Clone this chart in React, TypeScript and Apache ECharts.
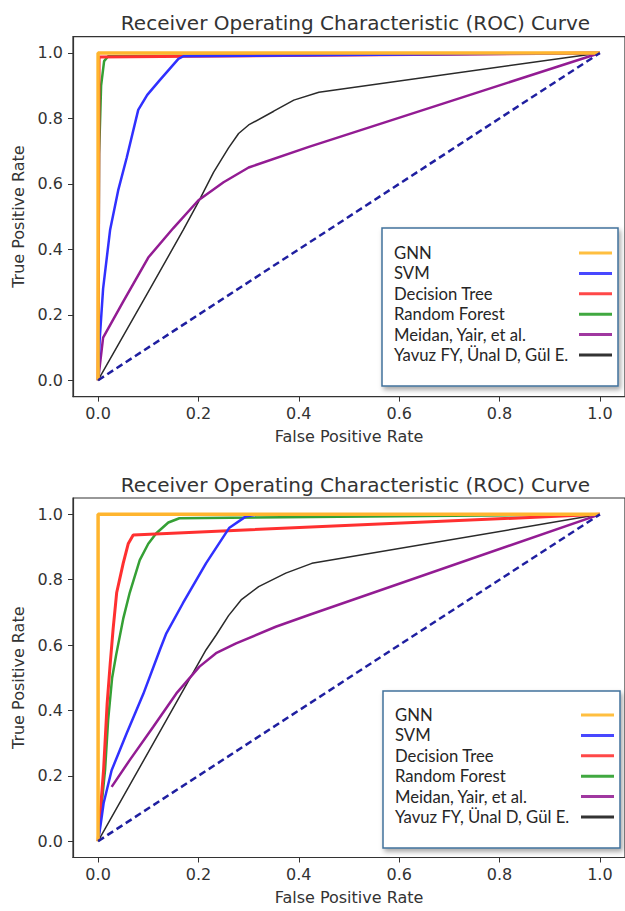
import React, { useEffect, useRef } from "react";
import * as echarts from "echarts";

const TITLE = "Receiver Operating Characteristic (ROC) Curve";
const X_NAME = "False Positive Rate";
const Y_NAME = "True Positive Rate";
const tickValues = [0, 0.2, 0.4, 0.6, 0.8, 1.0];
const seriesNames = [
  "GNN",
  "SVM",
  "Decision Tree",
  "Random Forest",
  "Meidan, Yair, et al.",
  "Yavuz FY, Ünal D, Gül E.",
];

// top chart
const topGnn = [[0, 0], [0, 1], [1, 1]];
const topSvm = [[0, 0], [0.003, 0.12], [0.01, 0.28], [0.024, 0.46], [0.04, 0.58], [0.057, 0.68], [0.08, 0.826], [0.098, 0.872], [0.123, 0.917], [0.16, 0.982], [0.17, 0.99], [1, 1]];
const topTree = [[0, 0], [0.002, 0.988], [1, 1]];
const topForest = [[0, 0], [0.002, 0.69], [0.006, 0.9], [0.012, 0.975], [0.02, 0.99], [1, 1]];
const topMeidan = [[0, 0], [0.01, 0.13], [0.05, 0.24], [0.1, 0.375], [0.15, 0.465], [0.2, 0.55], [0.25, 0.605], [0.3, 0.65], [0.42, 0.713], [1, 1]];
const topYavuz = [[0, 0], [0.1, 0.27], [0.17, 0.46], [0.2, 0.545], [0.23, 0.635], [0.26, 0.71], [0.28, 0.754], [0.3, 0.78], [0.35, 0.822], [0.39, 0.856], [0.44, 0.88], [1, 1]];

// bottom chart
const botGnn = [[0, 0], [0, 1], [1, 1]];
const botSvm = [[0, 0], [0.005, 0.05], [0.011, 0.116], [0.027, 0.217], [0.057, 0.33], [0.09, 0.45], [0.123, 0.585], [0.136, 0.636], [0.169, 0.728], [0.215, 0.85], [0.261, 0.958], [0.294, 0.993], [0.32, 1], [1, 1]];
const botTree = [[0, 0], [0.005, 0.1], [0.011, 0.22], [0.018, 0.42], [0.024, 0.54], [0.03, 0.65], [0.037, 0.76], [0.05, 0.85], [0.06, 0.91], [0.07, 0.937], [1, 1]];
const botForest = [[0, 0], [0.005, 0.08], [0.014, 0.22], [0.02, 0.37], [0.028, 0.5], [0.036, 0.57], [0.05, 0.68], [0.063, 0.76], [0.083, 0.86], [0.1, 0.91], [0.116, 0.942], [0.14, 0.975], [0.162, 0.988], [1, 1]];
const botMeidan = [[0.027, 0.166], [0.063, 0.248], [0.11, 0.35], [0.156, 0.452], [0.202, 0.534], [0.235, 0.575], [0.275, 0.605], [0.354, 0.656], [0.42, 0.692], [1, 1]];
const botYavuz = [[0, 0], [0.215, 0.585], [0.235, 0.63], [0.26, 0.69], [0.285, 0.738], [0.32, 0.779], [0.374, 0.82], [0.426, 0.85], [1, 1]];

const diagonal = [[0, 0], [1, 1]];

const lineColors = ["#ffb52e", "#3030ff", "#ff3030", "#35a035", "#931c93", "#2a2a2a"];
const lineWidths = [3.5, 2.5, 3, 2.5, 2.5, 1.5];
const legendColors = ["#ffbf40", "#4848ff", "#ff4848", "#40a840", "#a038a0", "#333333"];

const FONT = "DejaVu Sans";

function buildLegend(bx: number, by: number, bw: number, bh: number, firstRow: number, rowGap: number) {
  const children: any[] = [
    {
      type: "rect",
      shape: { x: bx, y: by, width: bw, height: bh },
      style: {
        fill: "#ffffff",
        stroke: "#41719c",
        lineWidth: 1.5,
        shadowBlur: 5,
        shadowOffsetX: 2,
        shadowOffsetY: 3,
        shadowColor: "rgba(0,0,0,0.35)",
      },
    },
  ];
  seriesNames.forEach((name, i) => {
    const cy = by + firstRow + i * rowGap;
    children.push({
      type: "text",
      style: {
        text: name,
        x: bx + 12,
        y: cy,
        fill: "#262626",
        fontFamily: "Lato",
        fontSize: 16.7,
        verticalAlign: "middle",
        align: "left",
      },
    });
    children.push({
      type: "line",
      shape: { x1: bx + bw - 39, y1: cy, x2: bx + bw - 6, y2: cy },
      style: { stroke: legendColors[i], lineWidth: 3 },
    });
  });
  return { type: "group", z: 100, children };
}

export default function App() {
  const ref = useRef<HTMLDivElement>(null);
  useEffect(() => {
    if (!ref.current) return;
    const chart = echarts.init(ref.current, null, { renderer: "svg" });
    const labelStyle = { fontFamily: FONT, fontSize: 16, color: "#333" };
    const grids = [
      { left: 73, top: 36.6, width: 555, height: 360 },
      { left: 73, top: 498, width: 555, height: 359.5 },
    ];
    const xAxis = grids.map((_, i) => ({
      type: "value",
      gridIndex: i,
      min: -0.05,
      max: 1.05,
      name: X_NAME,
      nameLocation: "middle",
      nameGap: 32,
      nameTextStyle: labelStyle,
      axisLine: { show: true, onZero: false, lineStyle: { color: "#333", width: 1.2 } },
      axisTick: { show: true, customValues: tickValues, length: 5, lineStyle: { color: "#333", width: 1 } },
      axisLabel: { customValues: tickValues, formatter: (v: number) => v.toFixed(1), margin: 9, ...labelStyle },
      splitLine: { show: false },
    }));
    const yAxis = grids.map((_, i) => ({
      type: "value",
      gridIndex: i,
      min: -0.05,
      max: 1.05,
      name: Y_NAME,
      nameLocation: "middle",
      nameGap: 47,
      nameTextStyle: labelStyle,
      axisLine: { show: true, onZero: false, lineStyle: { color: "#333", width: 1.2 } },
      axisTick: { show: true, customValues: tickValues, length: 5, lineStyle: { color: "#333", width: 1 } },
      axisLabel: { customValues: tickValues, formatter: (v: number) => v.toFixed(1), margin: 10, ...labelStyle },
      splitLine: { show: false },
    }));
    const chartData = [
      [topGnn, topSvm, topTree, topForest, topMeidan, topYavuz],
      [botGnn, botSvm, botTree, botForest, botMeidan, botYavuz],
    ];
    const drawOrder = [5, 4, 3, 2, 1, 0];
    const series: any[] = [];
    chartData.forEach((sets, gi) => {
      drawOrder.forEach((si, k) => {
        series.push({
          type: "line",
          name: seriesNames[si],
          xAxisIndex: gi,
          yAxisIndex: gi,
          data: sets[si],
          showSymbol: false,
          symbol: "none",
          z: 2 + k * 0.01,
          lineStyle: { color: lineColors[si], width: lineWidths[si] },
        });
      });
      series.push({
        type: "line",
        name: "diagonal",
        xAxisIndex: gi,
        yAxisIndex: gi,
        data: diagonal,
        showSymbol: false,
        symbol: "none",
        z: 3,
        lineStyle: { color: "#1f1fa0", width: 2.5, type: [7, 4] },
      });
    });
    const titleStyle = { fontFamily: FONT, fontSize: 20, fontWeight: "normal", color: "#333" };
    chart.setOption({
      animation: false,
      backgroundColor: "#ffffff",
      title: [
        { text: TITLE, left: 350.5, top: 8, textAlign: "center", textStyle: titleStyle },
        { text: TITLE, left: 350.5, top: 470, textAlign: "center", textStyle: titleStyle },
      ],
      grid: grids.map((g) => ({ ...g, show: true, borderColor: "#333", borderWidth: 1.2, backgroundColor: "#fff" })),
      xAxis,
      yAxis,
      series,
      graphic: [buildLegend(382, 228, 236, 158, 25, 20.4), buildLegend(383, 691, 237, 157, 24, 20.4)],
    });
    return () => chart.dispose();
  }, []);
  return <div ref={ref} style={{ position: "fixed", left: 0, top: 0, width: 625, height: 911 }} />;
}
